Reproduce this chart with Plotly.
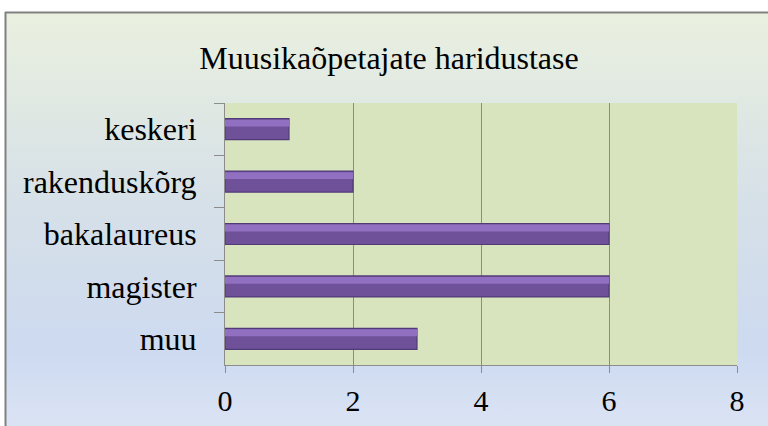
import base64
import plotly.graph_objects as go

categories = ["keskeri", "rakenduskõrg", "bakalaureus", "magister", "muu"]
values = [1, 2, 6, 6, 3]
x_ticks = [0, 2, 4, 6, 8]
title_text = "Muusikaõpetajate haridustase"

W, H = 768, 426
FONT = "'Times New Roman', 'Liberation Serif', 'DejaVu Serif', serif"

svg = f"""<svg xmlns='http://www.w3.org/2000/svg' width='{W}' height='{H}' preserveAspectRatio='none'>
<defs><linearGradient id='g' x1='0' y1='0' x2='0' y2='1'>
<stop offset='0' stop-color='#EAF0DF'/>
<stop offset='0.45' stop-color='#D6E0E8'/>
<stop offset='0.8' stop-color='#CDDAF0'/>
<stop offset='1' stop-color='#DDE5F5'/>
</linearGradient></defs>
<rect x='0' y='0' width='{W}' height='{H}' fill='#FFFFFF'/>
<rect x='5' y='12' width='{W}' height='{H}' fill='url(#g)'/>
<line x1='5' y1='12.5' x2='{W}' y2='12.5' stroke='#808080' stroke-width='2'/>
<line x1='5.5' y1='12' x2='5.5' y2='{H}' stroke='#808080' stroke-width='2'/>
</svg>"""
src = "data:image/svg+xml;base64," + base64.b64encode(svg.encode()).decode()

fig = go.Figure()
fig.add_trace(go.Bar(
    y=categories, x=values, orientation="h",
    width=0.4,
    marker=dict(color="#6E5198", line=dict(color="#523A78", width=1.2)),
    hoverinfo="skip", showlegend=False,
))
fig.add_trace(go.Bar(
    y=categories, x=values, orientation="h",
    width=0.13, offset=-0.18,
    marker=dict(color="#9170C2", line=dict(width=0)),
    hoverinfo="skip", showlegend=False,
))

fig.update_layout(
    width=W, height=H,
    margin=dict(l=225, r=31, t=103, b=61),
    paper_bgcolor="rgba(0,0,0,0)",
    plot_bgcolor="rgba(0,0,0,0)",
    barmode="overlay",
    images=[dict(source=src, xref="paper", yref="paper", x=-225/512, y=1+103/262,
                 sizex=W/512, sizey=H/262, sizing="stretch", layer="below",
                 xanchor="left", yanchor="top")],
    shapes=[dict(type="rect", xref="paper", yref="paper", x0=0, x1=1, y0=0, y1=1,
                 fillcolor="#D8E4BE", line=dict(width=0), layer="below")],
    title=dict(text=title_text, xref="container", x=389/W, xanchor="center",
               y=1 - 58/H, yref="container", yanchor="middle",
               font=dict(family=FONT, size=32, color="#000000")),
    font=dict(family=FONT, color="#000000"),
)
fig.update_xaxes(
    range=[0, 8], tickvals=x_ticks, ticktext=[str(v) for v in x_ticks],
    showgrid=True, gridcolor="#8C8C8C", gridwidth=1,
    showline=True, linecolor="#8C8C8C", linewidth=1,
    ticks="outside", ticklen=7, tickcolor="#8C8C8C",
    ticklabelstandoff=2, automargin=False,
    tickfont=dict(family=FONT, size=30, color="#000000"),
    zeroline=False, fixedrange=True,
)
fig.update_yaxes(
    type="category", categoryorder="array", categoryarray=categories,
    autorange="reversed",
    showline=True, linecolor="#8C8C8C", linewidth=1,
    ticks="outside", ticklen=10, tickcolor="#8C8C8C", tickson="boundaries",
    ticklabelstandoff=21, automargin=False,
    tickfont=dict(family=FONT, size=32, color="#000000"),
    showgrid=False, fixedrange=True,
)

fig.write_html("out.html", config={"displayModeBar": False},
               post_script="document.body.style.margin='0';document.body.style.overflow='hidden';")
